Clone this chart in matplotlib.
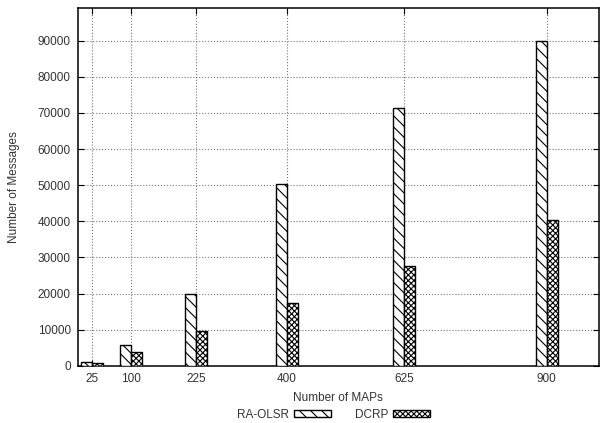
import matplotlib.pyplot as plt
import numpy as np

plt.rcParams['font.family'] = ['Liberation Sans', 'DejaVu Sans']
plt.rcParams['hatch.linewidth'] = 0.8

maps = [25, 100, 225, 400, 625, 900]
ra_olsr = [1200, 5800, 20000, 50400, 71400, 90000]
dcrp = [900, 3900, 9600, 17300, 27500, 40300]

bar_w = 21

fig = plt.figure(figsize=(6.03, 4.23), dpi=100)
ax = fig.add_axes([0.129, 0.135, 0.864, 0.846])

x = np.array(maps)
ax.bar(x - bar_w / 2, ra_olsr, bar_w, facecolor='white', edgecolor='black',
       hatch='\\\\\\', linewidth=1.0, label='RA-OLSR', zorder=3)
ax.bar(x + bar_w / 2, dcrp, bar_w, facecolor='white', edgecolor='black',
       hatch='xxxxxx', linewidth=1.0, label='DCRP', zorder=3)

ax.set_xlim(-2, 1000)
ax.set_ylim(0, 99000)
ax.set_xticks(maps)
ax.set_yticks(np.arange(0, 90001, 10000))
ax.tick_params(direction='in', top=True, right=True, labelsize=8.5, length=4,
               labelcolor='#333333', pad=5)
ax.grid(True, linestyle=':', color='#777777', linewidth=0.8, zorder=0)
for s in ax.spines.values():
    s.set_linewidth(1.1)

ax.set_xlabel('Number of MAPs', fontsize=8.5, labelpad=5, color='#333333')
ax.set_ylabel('Number of Messages', fontsize=8.5, labelpad=13, color='#333333')

leg = fig.legend(loc='center', bbox_to_anchor=(0.553, 0.02), ncol=2, frameon=False,
                 markerfirst=False, fontsize=8.5, handlelength=3.1, handleheight=0.5,
                 handletextpad=0.45, columnspacing=2.0)
for t in leg.get_texts():
    t.set_color('#333333')

fig.savefig('out.png', dpi=100)
